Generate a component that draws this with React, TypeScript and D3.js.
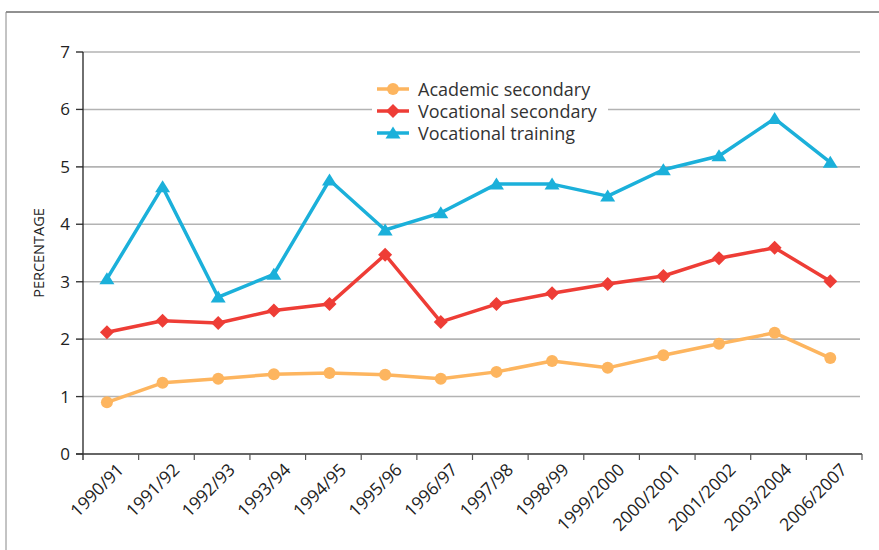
import React from "react";
import * as d3 from "d3";

const categories = ["1990/91","1991/92","1992/93","1993/94","1994/95","1995/96","1996/97","1997/98","1998/99","1999/2000","2000/2001","2001/2002","2003/2004","2006/2007"];
const academic = [0.9,1.24,1.31,1.39,1.41,1.38,1.31,1.43,1.62,1.5,1.72,1.92,2.11,1.67];
const vocSecondary = [2.12,2.32,2.28,2.5,2.61,3.47,2.3,2.61,2.8,2.96,3.1,3.41,3.59,3.01];
const vocTraining = [3.05,4.65,2.73,3.13,4.77,3.9,4.2,4.7,4.7,4.49,4.95,5.19,5.84,5.08];
const yTicks = [0,1,2,3,4,5,6,7];
const seriesNames = ["Academic secondary","Vocational secondary","Vocational training"];

const COLORS = ["#FDB55F", "#EE3D36", "#1BB0DA"];
const FONT = "'Open Sans', 'Noto Sans', sans-serif";

export default function App() {
  const W = 879, H = 550;
  const x0 = 83, x1 = 862, yTop = 52, yBot = 454;
  const xb = d3.scaleBand<string>().domain(categories).range([x0, x1]);
  const bw = xb.bandwidth();
  const px = (c: string) => (xb(c) as number) + bw * 0.43;
  const y = d3.scaleLinear().domain([0, 7]).range([yBot, yTop]);
  const series = [academic, vocSecondary, vocTraining];
  const line = d3.line<number>().x((_, i) => px(categories[i])).y((v) => y(v));

  const marker = (k: number, cx: number, cy: number, key: string, s = 1) => {
    if (k === 0) return <circle key={key} cx={cx} cy={cy} r={6 * s} fill={COLORS[0]} />;
    if (k === 1) {
      const r = 7 * s;
      return <path key={key} d={`M${cx},${cy - r}L${cx + r},${cy}L${cx},${cy + r}L${cx - r},${cy}Z`} fill={COLORS[1]} />;
    }
    const hw = 7.5 * s, h = 12 * s;
    return <path key={key} d={`M${cx},${cy - h * 0.55}L${cx + hw},${cy + h * 0.45}L${cx - hw},${cy + h * 0.45}Z`} fill={COLORS[2]} />;
  };

  return (
    <svg width={W} height={H} style={{ display: "block", position: "absolute", left: 0, top: 0 }} fontFamily={FONT}>
      <rect x={0} y={0} width={W} height={H} fill="#fff" />
      <line x1={6} y1={12} x2={W} y2={12} stroke="#222" strokeWidth={1} />
      <line x1={6} y1={12} x2={6} y2={H} stroke="#888" strokeWidth={1} />
      {yTicks.map((t) => (
        <g key={t}>
          {t > 0 && <line x1={76} x2={860} y1={y(t)} y2={y(t)} stroke="#b3b3b3" strokeWidth={1.6} />}
          <line x1={76} x2={x0} y1={y(t)} y2={y(t)} stroke="#333" strokeWidth={1.2} />
          <text x={70} y={y(t) + 6} textAnchor="end" fontSize={17} fill="#222">{t}</text>
        </g>
      ))}
      <line x1={x0} x2={x0} y1={yTop} y2={yBot + 6} stroke="#222" strokeWidth={1.3} />
      <line x1={76} x2={x1} y1={yBot} y2={yBot} stroke="#333" strokeWidth={1.3} />
      {categories.map((c) => (
        <line key={c} x1={(xb(c) as number) + bw} x2={(xb(c) as number) + bw} y1={yBot} y2={yBot + 6} stroke="#555" strokeWidth={1.2} />
      ))}
      {categories.map((c) => (
        <text key={c} transform={`translate(${px(c) + 9},${yBot + 8}) rotate(-45)`} textAnchor="end" dy="0.72em" fontSize={17.5} fill="#222">{c}</text>
      ))}
      <text transform={`translate(44,${(yTop + yBot) / 2}) rotate(-90)`} textAnchor="middle" fontSize={14.5} fill="#222">PERCENTAGE</text>

      {series.map((s, k) => (
        <g key={k}>
          <path d={line(s) as string} fill="none" stroke={COLORS[k]} strokeWidth={3.5} strokeLinejoin="round" />
          {s.map((v, i) => marker(k, px(categories[i]), y(v), `${k}-${i}`))}
        </g>
      ))}

      <rect x={372} y={76} width={236} height={68} fill="#fff" />
      {seriesNames.map((n, k) => {
        const ly = 89 + k * 22;
        return (
          <g key={n}>
            <line x1={377} x2={409} y1={ly} y2={ly} stroke={COLORS[k]} strokeWidth={3.5} />
            {marker(k, 393, ly, `lg${k}`, 1)}
            <text x={418} y={ly + 6.5} fontSize={18} fill="#333">{n}</text>
          </g>
        );
      })}
    </svg>
  );
}
